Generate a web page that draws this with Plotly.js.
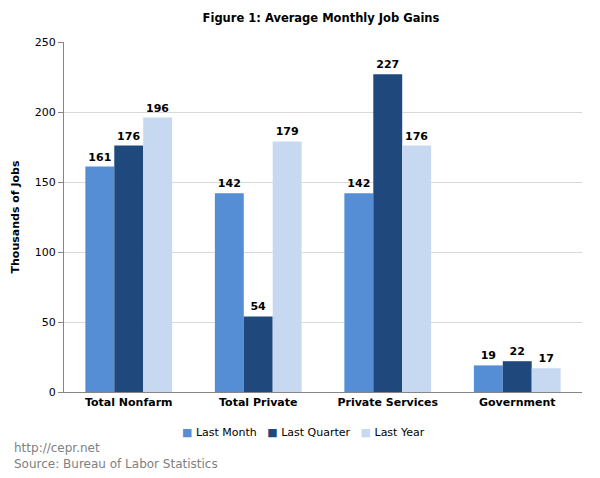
<!DOCTYPE html>
<html>
<head>
<meta charset="utf-8">
<script src="https://cdn.plot.ly/plotly-3.0.1.min.js"></script>
<style>html,body{margin:0;padding:0;background:#fff;}#chart{width:600px;height:478px;}</style>
</head>
<body>
<div id="chart"></div>
<script>
const categories = ["Total Nonfarm", "Total Private", "Private Services", "Government"];
const lastMonth = [161, 142, 142, 19];
const lastQuarter = [176, 54, 227, 22];
const lastYear = [196, 179, 176, 17];
const seriesNames = ["Last Month", "Last Quarter", "Last Year"];
const yTicks = [0, 50, 100, 150, 200, 250];

const FONT = "Verdana, 'DejaVu Sans', sans-serif";
const colors = ["#558ED5", "#1F497D", "#C6D9F1"];
const series = [lastMonth, lastQuarter, lastYear];

const traces = series.map((vals, i) => ({
  type: "bar",
  name: seriesNames[i],
  x: categories,
  y: vals,
  marker: {color: colors[i], line: {width: 0}},
  text: vals.map(String),
  texttemplate: "<b>%{text}</b>",
  textposition: "outside",
  cliponaxis: false,
  outsidetextfont: {family: FONT, size: 11, color: "#000"},
  hoverinfo: "skip",
  showlegend: false
}));

// compact legend built from the series names and colours
const legendText = seriesNames.map((n, i) =>
  "<span style='color:" + colors[i] + "'>■</span> " + n).join("   ");

const layout = {
  width: 600, height: 478,
  margin: {l: 64, r: 18, t: 42, b: 86},
  paper_bgcolor: "#fff", plot_bgcolor: "#fff",
  barmode: "group",
  bargap: 0.33, bargroupgap: 0,
  font: {family: FONT, size: 11, color: "#000"},
  title: {text: "<b>Figure 1: Average Monthly Job Gains</b>", font: {family: FONT, size: 11.5, color: "#000"}, x: 0.535, xanchor: "center", y: 0.962, yanchor: "middle"},
  xaxis: {
    showline: true, linecolor: "#868686", linewidth: 1,
    ticks: "", tickfont: {family: FONT, size: 11, color: "#000"},
    tickvals: categories, ticktext: categories.map(c => "<b>" + c + "</b>"),
    showgrid: false, fixedrange: true
  },
  yaxis: {
    range: [0, 250], tickvals: yTicks,
    showline: true, linecolor: "#868686", linewidth: 1,
    ticks: "outside", ticklen: 5, tickcolor: "#868686",
    gridcolor: "#D9D9D9", gridwidth: 1, zeroline: false,
    tickfont: {family: FONT, size: 11, color: "#000"},
    title: {text: "<b>Thousands of Jobs</b>", font: {family: FONT, size: 11, color: "#000"}, standoff: 12}
  },
  showlegend: false,
  annotations: [
    {text: legendText, xref: "paper", yref: "paper", x: 0.463, y: -0.115, xanchor: "center", yanchor: "middle",
     showarrow: false, font: {family: FONT, size: 11, color: "#000"}},
    {text: "http://cepr.net<br>Source: Bureau of Labor Statistics", xref: "paper", yref: "paper",
     x: -0.1004, y: -0.133, xanchor: "left", yanchor: "top", align: "left", showarrow: false,
     font: {family: FONT, size: 12, color: "#808080"}}
  ]
};

Plotly.newPlot("chart", traces, layout, {displayModeBar: false, staticPlot: true});
</script>
</body>
</html>
